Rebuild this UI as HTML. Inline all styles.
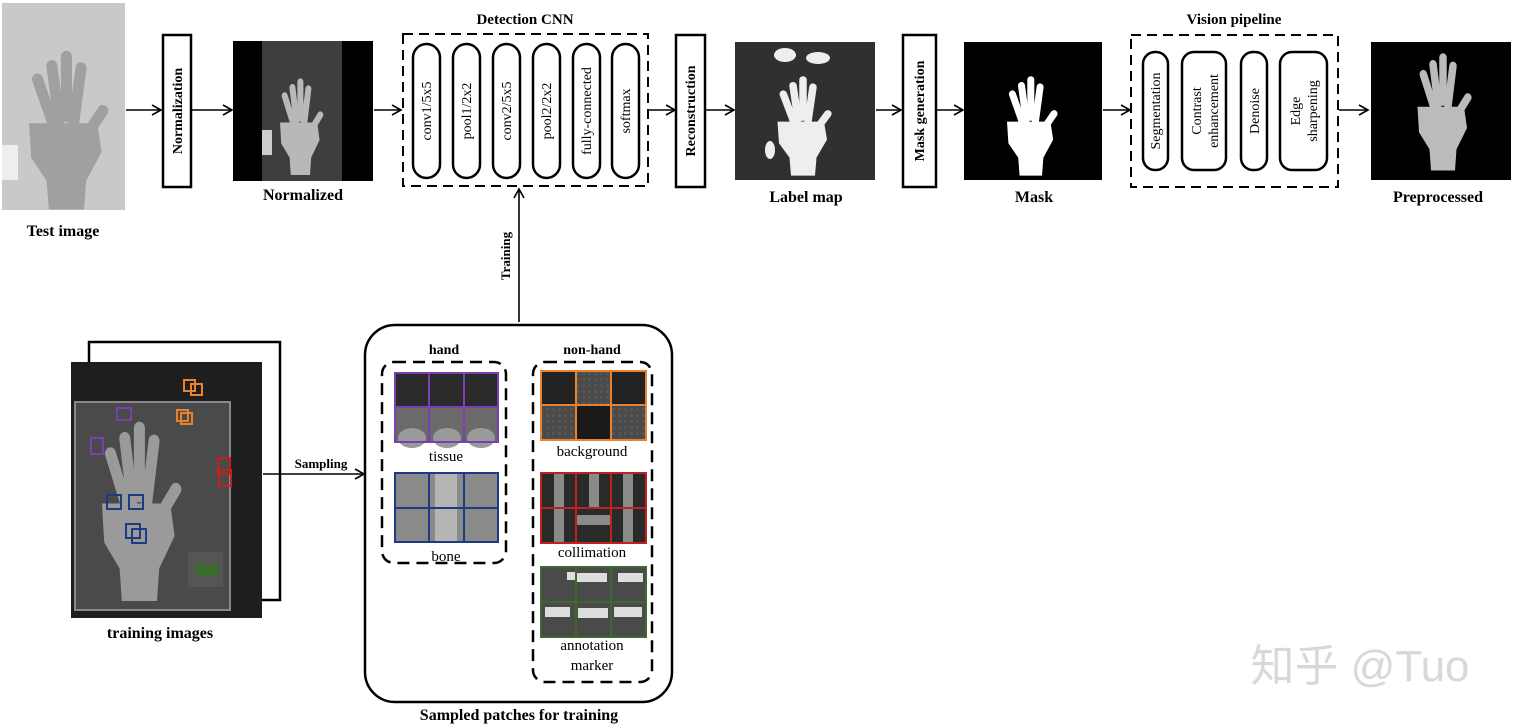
<!DOCTYPE html>
<html><head><meta charset="utf-8"><style>
html,body{margin:0;padding:0;background:#fff;}
svg{display:block;}
text{font-family:"Liberation Serif",serif;fill:#000;}
.b{font-weight:bold;}
</style></head><body>
<svg width="1514" height="727" viewBox="0 0 1514 727" xmlns="http://www.w3.org/2000/svg">
<defs>
<marker id="ar" markerWidth="12" markerHeight="12" refX="10" refY="6" orient="auto" markerUnits="userSpaceOnUse">
<path d="M1,1 L10,6 L1,11" fill="none" stroke="#000" stroke-width="1.6"/>
</marker>
<g id="hand">
<rect x="-5" y="0" width="10" height="58" rx="5" transform="translate(-10,0) rotate(-8)"/>
<rect x="-5" y="-8" width="10" height="62" rx="5" transform="translate(4,0)"/>
<rect x="-5" y="0" width="10" height="58" rx="5" transform="translate(18,2) rotate(8)"/>
<rect x="-5" y="0" width="10" height="50" rx="5" transform="translate(-24,12) rotate(-20)"/>
<rect x="-5" y="0" width="10" height="48" rx="5" transform="translate(40,40) rotate(35)"/>
<path d="M-30,55 L32,55 L36,80 L22,105 L20,130 L-12,130 L-14,105 L-28,85 Z"/>
</g>
<pattern id="noise" width="6" height="6" patternUnits="userSpaceOnUse"><rect width="6" height="6" fill="#4a4a4a"/><rect width="3" height="3" fill="#555"/></pattern>
</defs>

<!-- Test image -->
<rect x="2" y="3" width="123" height="207" fill="#c9c9c9"/>
<use href="#hand" transform="translate(62,60) scale(1.1,1.15)" fill="#a0a0a0"/>
<rect x="2" y="145" width="16" height="35" fill="#eee"/>
<text x="63" y="236" font-size="16" class="b" text-anchor="middle">Test image</text>

<g stroke="#000" stroke-width="1.6" fill="none">
<line x1="126" y1="110" x2="161" y2="110" marker-end="url(#ar)"/>
<line x1="192" y1="110" x2="232" y2="110" marker-end="url(#ar)"/>
<line x1="374" y1="110" x2="401" y2="110" marker-end="url(#ar)"/>
<line x1="649" y1="110" x2="675" y2="110" marker-end="url(#ar)"/>
<line x1="706" y1="110" x2="734" y2="110" marker-end="url(#ar)"/>
<line x1="876" y1="110" x2="901" y2="110" marker-end="url(#ar)"/>
<line x1="937" y1="110" x2="963" y2="110" marker-end="url(#ar)"/>
<line x1="1103" y1="110" x2="1130" y2="110" marker-end="url(#ar)"/>
<line x1="1339" y1="110" x2="1368" y2="110" marker-end="url(#ar)"/>
<line x1="519" y1="322" x2="519" y2="189" marker-end="url(#ar)"/>
</g>

<rect x="163" y="35" width="28" height="152" fill="#fff" stroke="#000" stroke-width="2.5"/>
<text transform="translate(182,111) rotate(-90)" font-size="14" class="b" text-anchor="middle">Normalization</text>

<rect x="233" y="41" width="140" height="140" fill="#000"/>
<rect x="262" y="41" width="80" height="140" fill="#3e3e3e"/>
<use href="#hand" transform="translate(298,84) scale(0.6,0.7)" fill="#b8b8b8"/>
<rect x="262" y="130" width="10" height="25" fill="#ccc"/>
<text x="303" y="200" font-size="16" class="b" text-anchor="middle">Normalized</text>

<text x="525" y="24" font-size="15" class="b" text-anchor="middle">Detection CNN</text>
<rect x="403" y="34" width="245" height="152" fill="none" stroke="#000" stroke-width="2" stroke-dasharray="10,6"/>
<g fill="#fff" stroke="#000" stroke-width="2.5">
<rect x="413" y="44" width="27" height="134" rx="13.5"/>
<rect x="453" y="44" width="27" height="134" rx="13.5"/>
<rect x="493" y="44" width="27" height="134" rx="13.5"/>
<rect x="533" y="44" width="27" height="134" rx="13.5"/>
<rect x="573" y="44" width="27" height="134" rx="13.5"/>
<rect x="612" y="44" width="27" height="134" rx="13.5"/>
</g>
<g font-size="14">
<text transform="translate(431,111) rotate(-90)" text-anchor="middle">conv1/5x5</text>
<text transform="translate(471,111) rotate(-90)" text-anchor="middle">pool1/2x2</text>
<text transform="translate(511,111) rotate(-90)" text-anchor="middle">conv2/5x5</text>
<text transform="translate(551,111) rotate(-90)" text-anchor="middle">pool2/2x2</text>
<text transform="translate(591,111) rotate(-90)" text-anchor="middle">fully-connected</text>
<text transform="translate(630,111) rotate(-90)" text-anchor="middle">softmax</text>
</g>

<rect x="676" y="35" width="29" height="152" fill="#fff" stroke="#000" stroke-width="2.5"/>
<text transform="translate(695,111) rotate(-90)" font-size="14" class="b" text-anchor="middle">Reconstruction</text>

<rect x="735" y="42" width="140" height="138" fill="#303030"/>
<use href="#hand" transform="translate(800,82) scale(0.75,0.72)" fill="#eee"/>
<ellipse cx="785" cy="55" rx="11" ry="7" fill="#eee"/>
<ellipse cx="818" cy="58" rx="12" ry="6" fill="#eee"/>
<ellipse cx="770" cy="150" rx="5" ry="9" fill="#eee"/>
<text x="806" y="202" font-size="16" class="b" text-anchor="middle">Label map</text>

<rect x="903" y="35" width="33" height="152" fill="#fff" stroke="#000" stroke-width="2.5"/>
<text transform="translate(924,111) rotate(-90)" font-size="14" class="b" text-anchor="middle">Mask  generation</text>

<rect x="964" y="42" width="138" height="138" fill="#000"/>
<use href="#hand" transform="translate(1028,82) scale(0.7,0.72)" fill="#fff"/>
<text x="1034" y="202" font-size="16" class="b" text-anchor="middle">Mask</text>

<text x="1234" y="24" font-size="15" class="b" text-anchor="middle">Vision pipeline</text>
<rect x="1131" y="35" width="207" height="152" fill="none" stroke="#000" stroke-width="2" stroke-dasharray="10,6"/>
<g fill="#fff" stroke="#000" stroke-width="2.5">
<rect x="1143" y="52" width="25" height="118" rx="12"/>
<rect x="1182" y="52" width="44" height="118" rx="12"/>
<rect x="1241" y="52" width="26" height="118" rx="12"/>
<rect x="1280" y="52" width="47" height="118" rx="12"/>
</g>
<g font-size="14">
<text transform="translate(1160,111) rotate(-90)" text-anchor="middle">Segmentation</text>
<text transform="translate(1201,111) rotate(-90)" text-anchor="middle">Contrast</text>
<text transform="translate(1218,111) rotate(-90)" text-anchor="middle">enhancement</text>
<text transform="translate(1259,111) rotate(-90)" text-anchor="middle">Denoise</text>
<text transform="translate(1300,111) rotate(-90)" text-anchor="middle">Edge</text>
<text transform="translate(1317,111) rotate(-90)" text-anchor="middle">sharpening</text>
</g>

<rect x="1371" y="42" width="140" height="138" fill="#000"/>
<use href="#hand" transform="translate(1440,60) scale(0.75,0.85)" fill="#bbb"/>
<text x="1438" y="202" font-size="16" class="b" text-anchor="middle">Preprocessed</text>

<text transform="translate(510,256) rotate(-90)" font-size="13" class="b" text-anchor="middle">Training</text>

<rect x="89" y="342" width="191" height="258" fill="#fff" stroke="#000" stroke-width="2.5"/>
<rect x="71" y="362" width="191" height="256" fill="#1e1e1e"/>
<rect x="75" y="402" width="155" height="208" fill="#4a4a4a" stroke="#888" stroke-width="2"/>
<use href="#hand" transform="translate(135,432) scale(1.1,1.3)" fill="#9a9a9a"/>
<rect x="188" y="552" width="35" height="35" fill="#555"/>
<rect x="196" y="564" width="22" height="12" fill="#3c6a2c"/>
<g fill="none" stroke-width="2">
<rect x="184" y="380" width="11" height="11" stroke="#e8822e"/><rect x="191" y="384" width="11" height="11" stroke="#e8822e"/>
<rect x="177" y="410" width="11" height="11" stroke="#e8822e"/><rect x="181" y="413" width="11" height="11" stroke="#e8822e"/>
<rect x="117" y="408" width="14" height="12" stroke="#7a3fb0"/>
<rect x="91" y="438" width="12" height="16" stroke="#7a3fb0"/>
<rect x="218" y="458" width="12" height="16" stroke="#c0201e"/><rect x="219" y="470" width="12" height="16" stroke="#c0201e"/>
<rect x="107" y="495" width="14" height="14" stroke="#1c3a86"/>
<rect x="129" y="495" width="14" height="14" stroke="#1c3a86"/>
<rect x="126" y="524" width="14" height="14" stroke="#1c3a86"/><rect x="132" y="529" width="14" height="14" stroke="#1c3a86"/>
</g>
<text x="160" y="638" font-size="16" class="b" text-anchor="middle">training images</text>

<line x1="263" y1="474" x2="364" y2="474" stroke="#000" stroke-width="1.6" marker-end="url(#ar)"/>
<text x="321" y="468" font-size="13" class="b" text-anchor="middle">Sampling</text>

<rect x="365" y="325" width="307" height="377" rx="30" fill="none" stroke="#000" stroke-width="2.5"/>
<text x="519" y="720" font-size="16" class="b" text-anchor="middle">Sampled patches for training</text>

<text x="444" y="354" font-size="14" class="b" text-anchor="middle">hand</text>
<rect x="382" y="362" width="124" height="201" rx="12" fill="none" stroke="#000" stroke-width="2.5" stroke-dasharray="12,7"/>
<text x="592" y="354" font-size="14" class="b" text-anchor="middle">non-hand</text>
<rect x="533" y="362" width="119" height="320" rx="12" fill="none" stroke="#000" stroke-width="2.5" stroke-dasharray="12,7"/>

<rect x="395" y="373" width="103" height="69" fill="#6a6a6a"/>
<rect x="395" y="373" width="103" height="34" fill="#2a2a2a"/>
<g fill="#9a9a9a"><ellipse cx="412" cy="438" rx="14" ry="10"/><ellipse cx="447" cy="438" rx="14" ry="10"/><ellipse cx="481" cy="438" rx="14" ry="10"/></g>
<g stroke="#7a3fb0" stroke-width="2" fill="none"><rect x="395" y="373" width="103" height="69"/><line x1="429" y1="373" x2="429" y2="442"/><line x1="464" y1="373" x2="464" y2="442"/><line x1="395" y1="407" x2="498" y2="407"/></g>
<text x="446" y="461" font-size="15" text-anchor="middle">tissue</text>

<rect x="395" y="473" width="103" height="69" fill="#8a8a8a"/>
<rect x="435" y="473" width="22" height="69" fill="#b5b5b5"/>
<g stroke="#1c3a86" stroke-width="2" fill="none"><rect x="395" y="473" width="103" height="69"/><line x1="429" y1="473" x2="429" y2="542"/><line x1="464" y1="473" x2="464" y2="542"/><line x1="395" y1="508" x2="498" y2="508"/></g>
<text x="446" y="561" font-size="15" text-anchor="middle">bone</text>

<rect x="541" y="371" width="105" height="69" fill="url(#noise)"/>
<rect x="542" y="372" width="34" height="33" fill="#222"/><rect x="611" y="372" width="34" height="33" fill="#222"/><rect x="576" y="406" width="35" height="33" fill="#1a1a1a"/>
<g stroke="#e8822e" stroke-width="2" fill="none"><rect x="541" y="371" width="105" height="69"/><line x1="576" y1="371" x2="576" y2="440"/><line x1="611" y1="371" x2="611" y2="440"/><line x1="541" y1="405" x2="646" y2="405"/></g>
<text x="592" y="456" font-size="15" text-anchor="middle">background</text>

<rect x="541" y="473" width="105" height="70" fill="#2a2a2a"/>
<g fill="#8a8a8a"><rect x="554" y="473" width="10" height="70"/><rect x="589" y="473" width="10" height="35"/><rect x="623" y="473" width="10" height="70"/><rect x="576" y="515" width="35" height="10"/></g>
<g stroke="#c0201e" stroke-width="2" fill="none"><rect x="541" y="473" width="105" height="70"/><line x1="576" y1="473" x2="576" y2="543"/><line x1="611" y1="473" x2="611" y2="543"/><line x1="541" y1="508" x2="646" y2="508"/></g>
<text x="592" y="557" font-size="15" text-anchor="middle">collimation</text>

<rect x="541" y="567" width="105" height="70" fill="#4a4a4a"/>
<g fill="#ddd"><rect x="567" y="572" width="8" height="8"/><rect x="577" y="573" width="30" height="9"/><rect x="618" y="573" width="25" height="9"/><rect x="545" y="607" width="25" height="10"/><rect x="578" y="608" width="30" height="10"/><rect x="614" y="607" width="28" height="10"/></g>
<g stroke="#3c6a2c" stroke-width="2" fill="none"><rect x="541" y="567" width="105" height="70"/><line x1="576" y1="567" x2="576" y2="637"/><line x1="611" y1="567" x2="611" y2="637"/><line x1="541" y1="602" x2="646" y2="602"/></g>
<text x="592" y="650" font-size="15" text-anchor="middle">annotation</text>
<text x="592" y="670" font-size="15" text-anchor="middle">marker</text>

<text x="1360" y="681" font-size="44" style="fill:#d8d8d8;font-family:'Liberation Sans','Noto Sans CJK SC',sans-serif" text-anchor="middle">知乎 @Tuo</text>
</svg>
</body></html>
